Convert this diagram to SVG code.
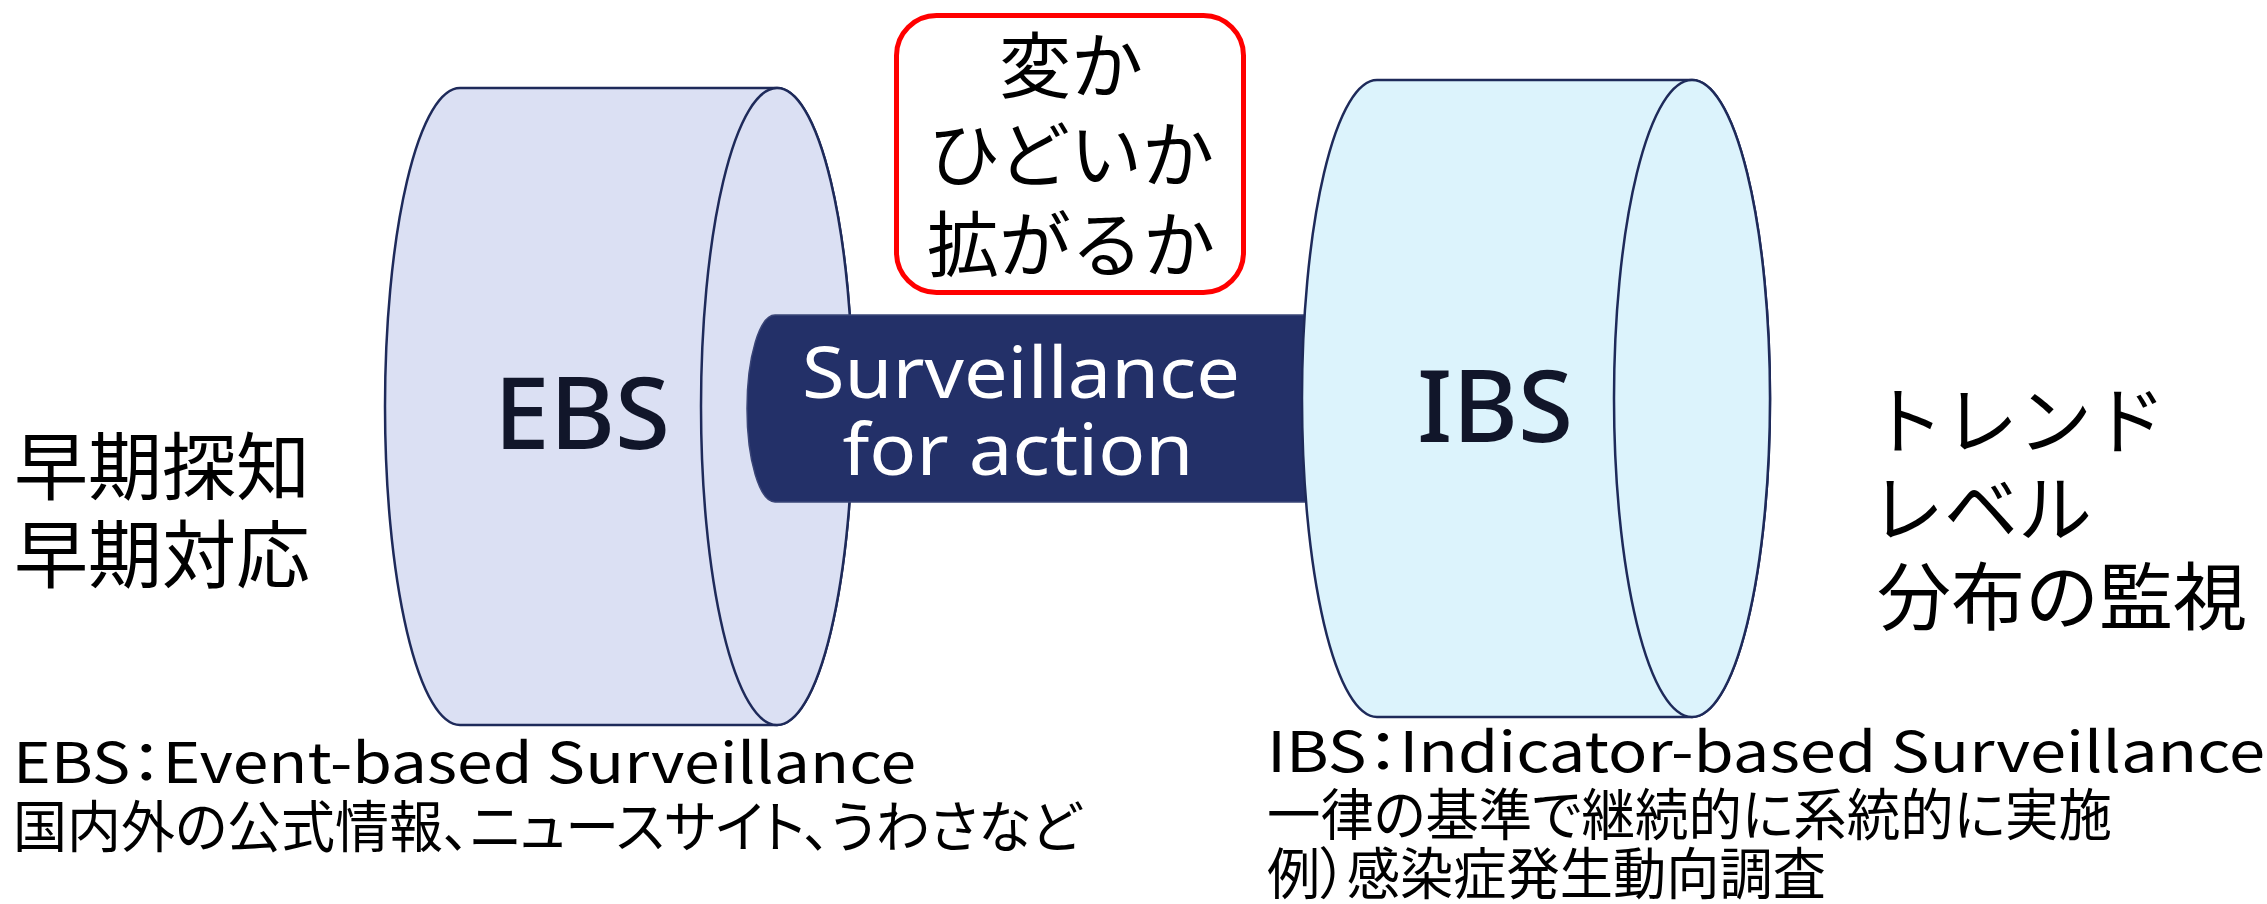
<svg xmlns="http://www.w3.org/2000/svg" width="2267" height="904" viewBox="0 0 2267 904">
<style>
.cyl{stroke:#1e2a5a;stroke-width:2.5}
.ebs{fill:#dbe0f3}
.ibs{fill:#dcf3fc}
.big{font-family:"Noto Sans","Liberation Sans",sans-serif;font-size:100px;font-weight:500;fill:#11162a;text-anchor:middle}
.bar{fill:#233068;stroke:#3a4577;stroke-width:1.5}
.bartxt{font-family:"Noto Sans","Open Sans","Liberation Sans",sans-serif;font-size:72px;fill:#ffffff;text-anchor:middle}
.jp{font-family:"Noto Sans CJK JP","Noto Sans",sans-serif;fill:#000000}
.jl{font-size:74px}
.jb{font-size:72px;text-anchor:middle}
.js{font-size:56px;font-feature-settings:"palt"}
</style>
<rect width="2267" height="904" fill="#ffffff"/>
<g id="ebs">
<path class="cyl ebs" d="M460,88 L777,88 A76,318.5 0 0 1 777,725 L460,725 A75,318.5 0 0 1 460,88 Z"/>
<ellipse class="cyl ebs" cx="777" cy="406.5" rx="76" ry="318.5"/>
<text class="big" x="582" y="449" textLength="176" lengthAdjust="spacingAndGlyphs">EBS</text>
</g>
<g id="connectors">
<g id="bar">
<path class="bar" d="M775,315 L1340,315 L1340,502 L775,502 A28,93.5 0 0 1 775,315 Z"/>
<text class="bartxt" x="1021" y="398" textLength="438" lengthAdjust="spacingAndGlyphs">Surveillance</text>
<text class="bartxt" x="1018" y="475" textLength="351" lengthAdjust="spacingAndGlyphs">for action</text>
</g>
</g>
<g id="ibs">
<path class="cyl ibs" d="M1377,80 L1692,80 A78,318.5 0 0 1 1692,717 L1377,717 A75,318.5 0 0 1 1377,80 Z"/>
<ellipse class="cyl ibs" cx="1692" cy="398.5" rx="78" ry="318.5"/>
<text class="big" x="1495" y="442" textLength="156" lengthAdjust="spacingAndGlyphs">IBS</text>
</g>
<g id="question">
<rect x="896.5" y="15.5" width="347" height="277" rx="40" ry="40" fill="#ffffff" stroke="#ff0000" stroke-width="5"/>
<text class="jp jb" x="1071" y="92">変か</text>
<text class="jp jb" x="1071" y="181">ひどいか</text>
<text class="jp jb" x="1071" y="271">拡がるか</text>
</g>
<g id="left-label">
<text class="jp jl" x="14" y="494">早期探知</text>
<text class="jp jl" x="14" y="582">早期対応</text>
</g>
<g id="right-label">
<text class="jp jl" x="1870" y="448">トレンド</text>
<text class="jp jl" x="1870" y="536">レベル</text>
<text class="jp jl" x="1877" y="624">分布の監視</text>
</g>
<g id="ebs-note">
<text class="jp js" x="13" y="783" textLength="903" lengthAdjust="spacingAndGlyphs">EBS：Event-based Surveillance</text>
<text class="jp js" x="13" y="847" textLength="1068" lengthAdjust="spacingAndGlyphs">国内外の公式情報、ニュースサイト、うわさなど</text>
</g>
<g id="ibs-note">
<text class="jp js" x="1267" y="772" textLength="998" lengthAdjust="spacingAndGlyphs">IBS：Indicator-based Surveillance</text>
<text class="jp js" x="1267" y="835" textLength="845" lengthAdjust="spacingAndGlyphs">一律の基準で継続的に系統的に実施</text>
<text class="jp js" x="1267" y="894" textLength="559" lengthAdjust="spacingAndGlyphs">例）感染症発生動向調査</text>
</g>
</svg>
